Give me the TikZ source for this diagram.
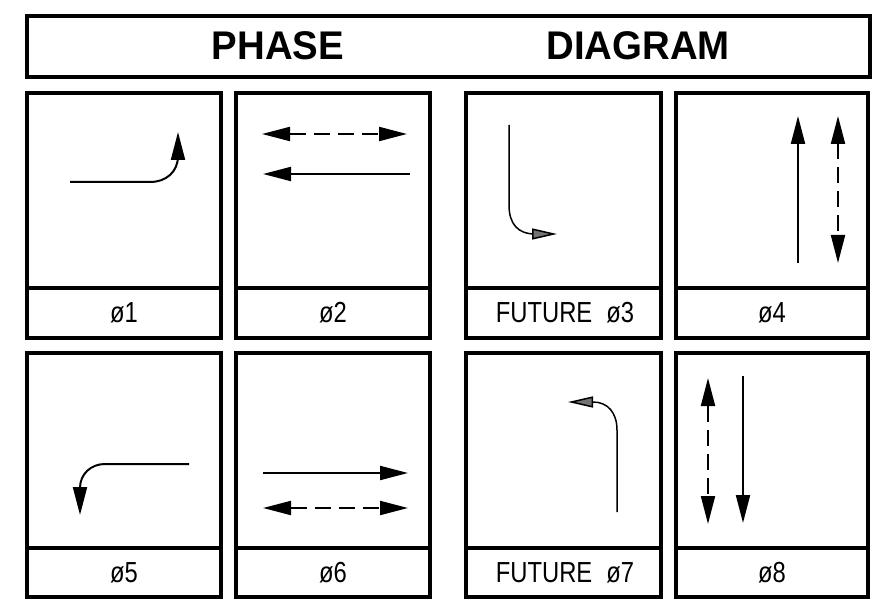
\documentclass[tikz,border=0pt]{standalone}
\usepackage{fontspec}
\setmainfont{Liberation Sans}
\usetikzlibrary{arrows.meta}

\tikzset{
  panel/.style={line width=3.8pt},
  title/.style={font=\fontsize{40}{40}\selectfont\bfseries, xscale=.96},
  phlabel/.style={font=\fontsize{29}{29}\selectfont, xscale=.82},
  move/.style={line width=2pt, -{Triangle[length=28pt,width=14pt]}},
  dmove/.style={line width=2pt, dash pattern=on 16pt off 8pt,
    {Triangle[length=28pt,width=14pt]}-{Triangle[length=28pt,width=14pt]}},
  fmove/.style={line width=1.5pt, -{Triangle[length=25pt,width=11pt,fill=black!55]}}
}

\begin{document}
\begin{tikzpicture}[x=1pt,y=-1pt]
\useasboundingbox (0,0) rectangle (878,604);
% title bar
\draw[panel] (27,16) rectangle (870,77);
\node[title] (phase) at (278,46) {PHASE};
\node[title] (diagram) at (638,46) {DIAGRAM};
%
% panels, two rows of four
\foreach \l/\r in {27/221,236/430,466/661,676/868}{
  \draw[panel] (\l,93) rectangle (\r,338);
  \draw[panel] (\l,288) -- (\r,288);
  \draw[panel] (\l,353) rectangle (\r,597);
  \draw[panel] (\l,548) -- (\r,548);
}
%
\node[phlabel] (ph1) at (124,313) {ø1};
\node[phlabel] (ph2) at (333,313) {ø2};
\node[phlabel] (ph3) at (565,313) {FUTURE\hspace{9pt} ø3};
\node[phlabel] (ph4) at (772,313) {ø4};
\node[phlabel] (ph5) at (124,573) {ø5};
\node[phlabel] (ph6) at (333,573) {ø6};
\node[phlabel] (ph7) at (565,573) {FUTURE\hspace{9pt} ø7};
\node[phlabel] (ph8) at (772,573) {ø8};
%
% movements
\draw[move] (70,182) -- (150,182) .. controls (166,182) and (178,172) .. (178,156) -- (178,132);
\draw[dmove] (262,134) -- (407,134);
\draw[move] (410,174) -- (263,174);
\draw[fmove] (509,125) -- (509,205) .. controls (509,224) and (518,234) .. (535,234) -- (557,234);
\draw[move] (798,263) -- (798,116);
\draw[dmove] (838,116) -- (838,263);
%
\draw[move] (189,464) -- (105,464) .. controls (91,464) and (80,474) .. (80,488) -- (80,515);
\draw[move] (263,473) -- (408,473);
\draw[dmove] (263,508) -- (408,508);
\draw[fmove] (617,512) -- (617,430) .. controls (617,413) and (608,402) .. (593,402) -- (568,402);
\draw[dmove] (708,378) -- (708,524);
\draw[move] (743,376) -- (743,523);
\end{tikzpicture}
\end{document}
